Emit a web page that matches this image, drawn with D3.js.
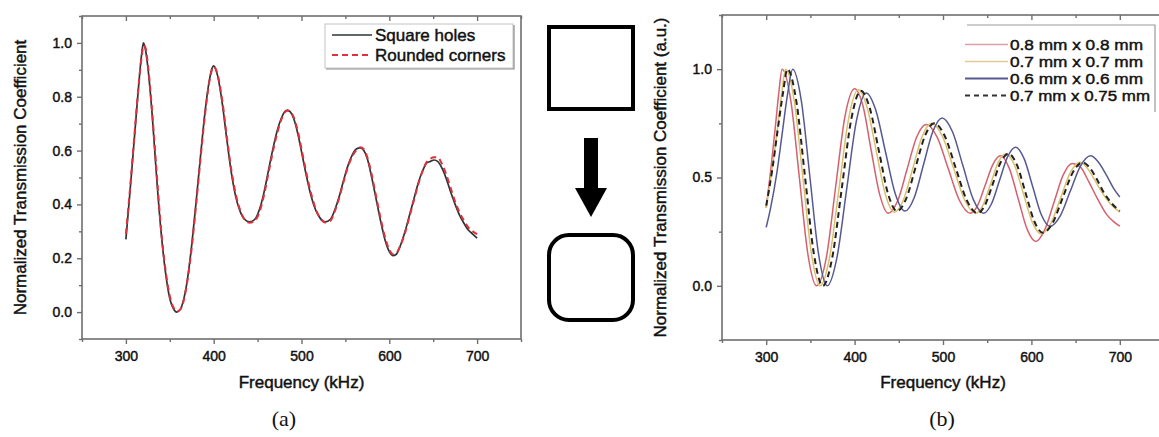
<!DOCTYPE html>
<html>
<head>
<meta charset="utf-8">
<script src="https://cdn.jsdelivr.net/npm/d3@7"></script>
<style>
  html, body { margin: 0; padding: 0; background: #fff; }
  svg { display: block; }
  text.sans { font-family: "Liberation Sans", Arial, sans-serif; fill: #111; stroke: #111; stroke-width: 0.45px; }
</style>
</head>
<body>
<svg id="chart" width="1159" height="437"></svg>
<script>
// ---------------- DATA ----------------
// Panel (a)
const freqA = [300,305,310,315,318,320,322,325,330,335,340,345,350,355,358,362,366,370,375,380,385,390,395,398,400,402,405,410,415,420,425,430,435,441,447,452,457,462,467,472,477,481,484,487,491,496,501,506,511,516,521,527,533,538,543,548,553,558,562,567,571,575,580,585,590,595,600,604,608,613,618,623,628,633,638,643,647,651,655,660,665,670,675,680,685,690,695,700];
const squareHoles = [0.27,0.46,0.66,0.86,0.96,1.0,0.98,0.91,0.73,0.50,0.30,0.15,0.05,0.008,0.0,0.01,0.05,0.12,0.25,0.41,0.58,0.74,0.86,0.905,0.915,0.905,0.87,0.77,0.64,0.52,0.43,0.375,0.345,0.335,0.345,0.38,0.44,0.52,0.60,0.67,0.72,0.745,0.75,0.745,0.72,0.66,0.58,0.50,0.43,0.38,0.35,0.335,0.345,0.38,0.43,0.49,0.545,0.585,0.605,0.61,0.60,0.57,0.50,0.42,0.34,0.27,0.225,0.21,0.215,0.25,0.30,0.36,0.42,0.48,0.525,0.555,0.56,0.565,0.56,0.535,0.495,0.445,0.40,0.36,0.33,0.305,0.29,0.275];
const roundedCorners = [0.29,0.47,0.67,0.86,0.95,0.99,0.985,0.92,0.74,0.52,0.31,0.16,0.06,0.012,0.003,0.01,0.045,0.115,0.24,0.40,0.57,0.73,0.855,0.90,0.912,0.905,0.875,0.78,0.65,0.53,0.44,0.38,0.345,0.332,0.34,0.37,0.43,0.51,0.59,0.66,0.715,0.742,0.748,0.745,0.725,0.67,0.59,0.51,0.44,0.385,0.35,0.333,0.34,0.375,0.425,0.485,0.54,0.58,0.60,0.612,0.605,0.575,0.51,0.43,0.35,0.28,0.232,0.215,0.22,0.25,0.295,0.355,0.415,0.475,0.525,0.56,0.57,0.575,0.575,0.55,0.51,0.46,0.41,0.37,0.34,0.315,0.30,0.29];

// Panel (b)
const freqB08 = [300,305,310,314,318,328,337.5,347,357,368,378.5,389,400,409.5,419,428.5,438,449,459.5,470,481,493.5,506,518.5,531,539.5,548,556.5,565,575,585,595,605,615,625.5,636,646,655,665,675,685,692,700];
const valB08  = [0.36,0.53,0.72,0.88,1.0,0.85,0.50,0.15,0.0,0.13,0.455,0.78,0.91,0.83,0.62,0.42,0.335,0.395,0.54,0.685,0.745,0.685,0.54,0.395,0.335,0.374,0.468,0.561,0.60,0.542,0.403,0.263,0.205,0.258,0.385,0.512,0.565,0.55,0.48,0.40,0.33,0.30,0.275];

const freqB07 = [300,306,312,317,322,331.75,341.5,351.25,361,371.75,382.5,393.25,404,414.25,424.5,434.75,445,455.5,466,476.5,487,499.5,512,524.5,537,545.5,554,562.5,571,581,591,601,611,622,633,644,655,662,670,680,690,700];
const valB07  = [0.36,0.52,0.70,0.87,1.0,0.854,0.50,0.146,0.0,0.132,0.4525,0.773,0.905,0.822,0.6225,0.4225,0.34,0.40,0.545,0.69,0.75,0.689,0.5425,0.396,0.335,0.375,0.4725,0.57,0.61,0.556,0.425,0.294,0.24,0.288,0.405,0.522,0.57,0.55,0.50,0.43,0.375,0.34];

const freqB06 = [300,305,312,318,324,330,339.75,349.5,359.25,369,380,391,402,413,424,435,446,457,467.5,478,488.5,499,510.75,522.5,534.25,546,555,564,573,582,591.75,601.5,611.25,621,632.5,644,655.5,667,675,685,693,700];
const valB06  = [0.27,0.36,0.52,0.70,0.88,1.0,0.854,0.50,0.146,0.0,0.13,0.445,0.76,0.89,0.81,0.6175,0.425,0.345,0.408,0.56,0.712,0.775,0.711,0.555,0.399,0.335,0.38,0.4875,0.595,0.64,0.587,0.4575,0.328,0.275,0.322,0.4375,0.553,0.60,0.575,0.51,0.45,0.41];

const freqB0775 = [300,307,313,319,324,334,344,354,364,374.75,385.5,396.25,407,417.25,427.5,437.75,448,458.5,469,479.5,490,502.25,514.5,526.75,539,547.75,556.5,565.25,574,583.75,593.5,603.25,613,624.25,635.5,646.75,658,665,673,682,691,700];
const valB0775  = [0.37,0.54,0.72,0.89,1.0,0.854,0.50,0.146,0.0,0.131,0.45,0.769,0.90,0.819,0.6225,0.426,0.345,0.404,0.5475,0.691,0.75,0.689,0.5425,0.396,0.335,0.375,0.4725,0.57,0.61,0.557,0.4275,0.298,0.245,0.292,0.4075,0.5225,0.57,0.55,0.50,0.43,0.38,0.345];

// Tick values / labels
const xMajorTicks = [300,400,500,600,700];
const xMinorTicks = [250,350,450,550,650,750];
const yMajorTicksA = [0.0,0.2,0.4,0.6,0.8,1.0];
const yMinorTicksA = [-0.1,0.1,0.3,0.5,0.7,0.9,1.1];
const yMajorTicksB = [0.0,0.5,1.0];
const yMinorTicksB = [-0.25,0.25,0.75,1.25];

const legendA = ["Square holes","Rounded corners"];
const legendB = ["0.8 mm x 0.8 mm","0.7 mm x 0.7 mm","0.6 mm x 0.6 mm","0.7 mm x 0.75 mm"];
const xTitle = "Frequency (kHz)";
const yTitleA = "Normalized Transmission Coefficient";
const yTitleB = "Normalized Transmission Coefficient (a.u.)";

// ---------------- DRAWING ----------------
const svg = d3.select("#chart");
svg.append("rect").attr("width",1159).attr("height",437).attr("fill","#fff");

const FRAME = "#6f6f6f";

function drawPanel(cfg) {
  const g = svg.append("g");
  const x = d3.scaleLinear().domain([250,750]).range([cfg.x0, cfg.x1]);
  const y = d3.scaleLinear().domain(cfg.yDomain).range([cfg.yBottom, cfg.yTop]);

  g.append("rect")
    .attr("x", cfg.x0).attr("y", cfg.yTop)
    .attr("width", cfg.x1 - cfg.x0).attr("height", cfg.yBottom - cfg.yTop)
    .attr("fill","none").attr("stroke",FRAME).attr("stroke-width",1.6);

  const styleAxis = sel => {
    sel.select(".domain").remove();
    sel.selectAll(".tick line").attr("stroke",FRAME).attr("stroke-width",1.4);
    sel.selectAll("text").attr("class","sans").attr("fill","#111")
      .style("font-family",'"Liberation Sans", Arial, sans-serif').style("font-size","14px");
  };

  g.append("g").attr("transform",`translate(0,${cfg.yBottom})`)
    .call(d3.axisBottom(x).tickValues(xMajorTicks).tickSize(5).tickPadding(7).tickFormat(d3.format("d")))
    .call(styleAxis);
  g.append("g").attr("transform",`translate(0,${cfg.yBottom})`)
    .call(d3.axisBottom(x).tickValues(xMinorTicks).tickSize(3).tickFormat(""))
    .call(styleAxis);
  g.append("g").attr("transform",`translate(0,${cfg.yTop})`)
    .call(d3.axisTop(x).tickValues(xMajorTicks).tickSize(-5).tickFormat(""))
    .call(styleAxis);
  g.append("g").attr("transform",`translate(0,${cfg.yTop})`)
    .call(d3.axisTop(x).tickValues(xMinorTicks).tickSize(-3).tickFormat(""))
    .call(styleAxis);
  g.append("g").attr("transform",`translate(${cfg.x0},0)`)
    .call(d3.axisLeft(y).tickValues(cfg.yMajor).tickSize(5).tickPadding(5).tickFormat(d3.format(".1f")))
    .call(styleAxis);
  g.append("g").attr("transform",`translate(${cfg.x0},0)`)
    .call(d3.axisLeft(y).tickValues(cfg.yMinor).tickSize(3).tickFormat(""))
    .call(styleAxis);

  g.append("text").attr("class","sans").attr("x", x(500)).attr("y", 388).attr("text-anchor","middle")
    .style("font-size","17px").text(xTitle);
  g.append("text").attr("class","sans")
    .attr("transform",`translate(${cfg.yTitleX},${(cfg.yTop+cfg.yBottom)/2}) rotate(-90)`)
    .attr("text-anchor","middle").attr("dy","0.35em")
    .style("font-size","17px").text(cfg.yTitle);
  g.append("text").attr("x", cfg.capX).attr("y", 426).attr("text-anchor","middle")
    .style("font-family",'"Liberation Serif", "Times New Roman", serif').style("font-size","22px")
    .attr("fill","#111").text(cfg.caption);

  const line = d3.line().curve(d3.curveMonotoneX);
  cfg.series.forEach(s => {
    const pts = s.f.map((f,i) => [x(f), y(s.v[i])]);
    g.append("path").attr("d", line(pts)).attr("fill","none")
      .attr("stroke", s.color).attr("stroke-width", s.width)
      .attr("stroke-dasharray", s.dash || null);
  });
  return {x, y, g};
}

drawPanel({
  x0: 82, x1: 521, yTop: 16, yBottom: 339, yDomain: [-0.1, 1.1],
  yMajor: yMajorTicksA, yMinor: yMinorTicksA, yTitle: yTitleA, yTitleX: 20,
  caption: "(a)", capX: 284,
  series: [
    {f: freqA, v: squareHoles, color: "#2b3535", width: 1.7},
    {f: freqA, v: roundedCorners, color: "#e0303c", width: 2, dash: "6,4"}
  ]
});

drawPanel({
  x0: 722, x1: 1164, yTop: 15, yBottom: 340, yDomain: [-0.25, 1.25],
  yMajor: yMajorTicksB, yMinor: yMinorTicksB, yTitle: yTitleB, yTitleX: 660,
  caption: "(b)", capX: 942,
  series: [
    {f: freqB08, v: valB08, color: "#d6606e", width: 1.5},
    {f: freqB07, v: valB07, color: "#dcbf6a", width: 1.5},
    {f: freqB06, v: valB06, color: "#55598f", width: 1.5},
    {f: freqB0775, v: valB0775, color: "#222", width: 2, dash: "6,4"}
  ]
});

// Legend (a)
const lgA = svg.append("g");
lgA.append("rect").attr("x",325).attr("y",24).attr("width",188).attr("height",44)
  .attr("fill","#fff").attr("stroke","#c4c4c4").attr("stroke-width",1);
lgA.append("path").attr("d","M326,69 H514 V25").attr("fill","none").attr("stroke","#8a8a8a").attr("stroke-width",1.2);
const legAStyles = [{color:"#2b3535", dash:null, width:1.6},{color:"#e0303c", dash:"6,4", width:2}];
legendA.forEach((t,i) => {
  const yy = 35 + i*20;
  lgA.append("line").attr("x1",332).attr("x2",372).attr("y1",yy).attr("y2",yy)
    .attr("stroke",legAStyles[i].color).attr("stroke-width",legAStyles[i].width).attr("stroke-dasharray",legAStyles[i].dash);
  lgA.append("text").attr("class","sans").attr("x",375).attr("y",yy).attr("dy","0.35em").style("font-size","17px").text(t);
});

// Legend (b)
const lgB = svg.append("g");
lgB.append("rect").attr("x",967).attr("y",25).attr("width",188).attr("height",88).attr("fill","#fff").attr("stroke","none");
lgB.append("path").attr("d","M967,25 H1155 V112").attr("fill","none").attr("stroke","#9a9a9a").attr("stroke-width",1.2);
const legBStyles = [
  {color:"#dba0a8", dash:null, width:1.5},
  {color:"#e2cc92", dash:null, width:1.5},
  {color:"#55598f", dash:null, width:1.8},
  {color:"#333", dash:"5,4", width:1.8}
];
const legBWidths = [133, 133, 133, 140];
legendB.forEach((t,i) => {
  const yy = 44.5 + i*17;
  lgB.append("line").attr("x1",965).attr("x2",1008).attr("y1",yy).attr("y2",yy)
    .attr("stroke",legBStyles[i].color).attr("stroke-width",legBStyles[i].width).attr("stroke-dasharray",legBStyles[i].dash);
  lgB.append("text").attr("class","sans").attr("x",1010).attr("y",yy).attr("dy","0.35em")
    .attr("textLength", legBWidths[i]).attr("lengthAdjust","spacingAndGlyphs")
    .style("font-size","15px").text(t);
});

// Middle schematic: square -> arrow -> rounded square
const mid = svg.append("g");
mid.append("rect").attr("x",549).attr("y",27).attr("width",84).attr("height",82)
  .attr("fill","none").attr("stroke","#000").attr("stroke-width",4);
mid.append("rect").attr("x",584).attr("y",138).attr("width",14).attr("height",52).attr("fill","#000");
mid.append("path").attr("d","M575,188 L607,188 L591,217 Z").attr("fill","#000");
mid.append("rect").attr("x",549).attr("y",235).attr("width",84).attr("height",85).attr("rx",20).attr("ry",20)
  .attr("fill","none").attr("stroke","#000").attr("stroke-width",4);
</script>
</body>
</html>
